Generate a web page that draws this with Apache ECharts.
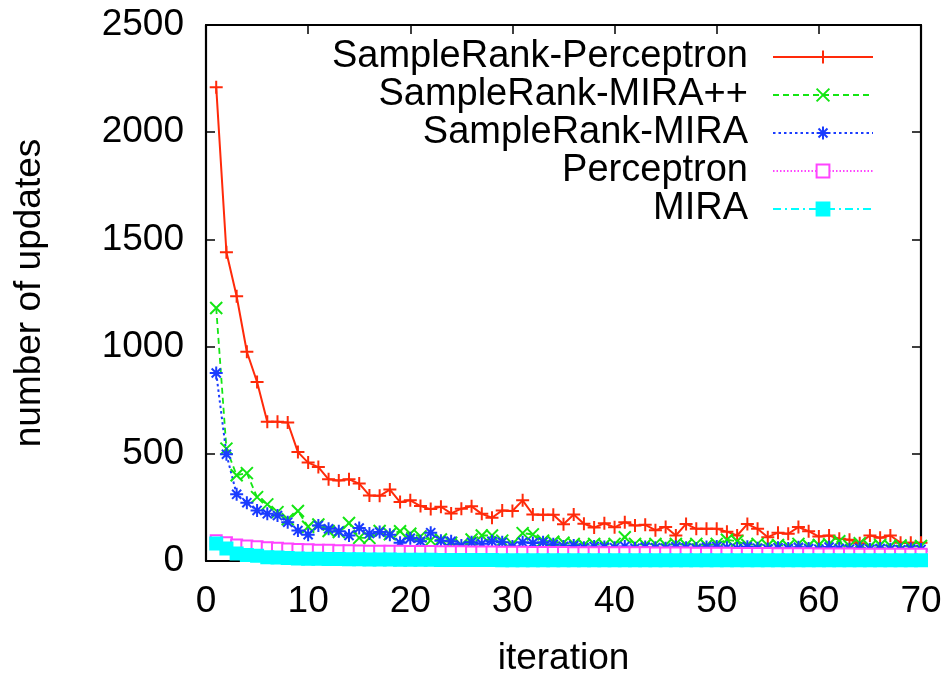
<!DOCTYPE html>
<html>
<head>
<meta charset="utf-8">
<script src="https://cdn.jsdelivr.net/npm/echarts@6/dist/echarts.min.js"></script>
<style>
  html, body { margin: 0; padding: 0; background: #fff; }
  #chart { width: 950px; height: 675px; }
</style>
</head>
<body>
<div id="chart"></div>
<script>
// Training iterations 1..70
const iterations = [
  1, 2, 3, 4, 5, 6, 7, 8, 9, 10, 11, 12, 13, 14, 15, 16, 17, 18, 19, 20,
  21, 22, 23, 24, 25, 26, 27, 28, 29, 30, 31, 32, 33, 34, 35, 36, 37, 38, 39, 40,
  41, 42, 43, 44, 45, 46, 47, 48, 49, 50, 51, 52, 53, 54, 55, 56, 57, 58, 59, 60,
  61, 62, 63, 64, 65, 66, 67, 68, 69, 70
];

// Number of weight updates per iteration for each learner
const sampleRankPerceptron = [
  2210, 1440, 1235, 976, 835, 649, 649, 646, 508, 459,
  438, 381, 376, 381, 361, 306, 304, 333, 275, 283,
  256, 242, 253, 222, 244, 255, 220, 202, 236, 233,
  283, 217, 216, 216, 171, 217, 174, 156, 176, 157,
  181, 165, 169, 144, 159, 119, 173, 150, 150, 150,
  137, 119, 172, 150, 111, 132, 127, 158, 139, 114,
  119, 104, 99, 83, 119, 108, 119, 85, 85, 85
];
const sampleRankMiraPP = [
  1180, 524, 400, 410, 298, 264, 228, 195, 233, 160,
  170, 140, 135, 177, 108, 108, 140, 125, 139, 127,
  115, 96, 100, 85, 75, 100, 119, 119, 95, 80,
  130, 124, 95, 90, 85, 80, 75, 80, 75, 80,
  111, 80, 75, 80, 75, 80, 75, 80, 72, 80,
  99, 92, 75, 80, 72, 75, 70, 80, 72, 75,
  78, 92, 70, 83, 68, 75, 70, 72, 65, 70
];
const sampleRankMira = [
  877, 498, 311, 272, 236, 220, 212, 181, 142, 123,
  166, 150, 139, 119, 154, 128, 135, 122, 85, 106,
  92, 132, 94, 92, 72, 88, 80, 92, 88, 68,
  88, 84, 88, 78, 68, 72, 62, 68, 65, 62,
  68, 60, 65, 62, 60, 66, 62, 58, 65, 68,
  62, 58, 66, 60, 56, 62, 58, 64, 58, 55,
  65, 58, 55, 60, 55, 58, 55, 52, 56, 54
];
const perceptron = [
  95, 85, 75, 70, 66, 62, 60, 56, 54, 52,
  50, 50, 48, 48, 47, 46, 46, 45, 45, 44,
  44, 44, 43, 43, 43, 42, 42, 42, 41, 41,
  41, 40, 40, 40, 40, 39, 39, 39, 39, 38,
  38, 38, 38, 37, 37, 37, 37, 36, 36, 36,
  36, 35, 35, 35, 35, 34, 34, 34, 34, 33,
  33, 33, 33, 32, 32, 32, 32, 31, 31, 31
];
const mira = [
  82, 58, 35, 28, 24, 18, 16, 14, 12, 10,
  10, 9, 9, 8, 8, 7, 7, 7, 6, 6,
  6, 6, 5, 5, 5, 5, 5, 5, 4, 4,
  4, 4, 4, 4, 4, 4, 4, 4, 4, 3,
  3, 3, 3, 3, 3, 3, 3, 3, 3, 3,
  3, 3, 3, 3, 3, 3, 3, 3, 3, 3,
  3, 3, 3, 3, 3, 3, 3, 3, 3, 3
];

const xTicks = { min: 0, max: 70, interval: 10 };
const yTicks = { min: 0, max: 2500, interval: 500 };

const FONT = 'Liberation Sans';
const pairs = ys => iterations.map((x, i) => [x, ys[i]]);

// Point glyphs: plus, cross and asterisk drawn as stroked paths
const plusPath = 'path://M0,5L10,5M5,0L5,10';
const crossPath = 'path://M0,0L10,10M10,0L0,10';
const starPath = 'path://M0,5L10,5M5,0L5,10M1.5,1.5L8.5,8.5M8.5,1.5L1.5,8.5';

function lineSeries(name, ys, color, symbol, size, dash, width) {
  return {
    name: name,
    type: 'line',
    data: pairs(ys),
    symbol: symbol,
    symbolSize: size,
    showAllSymbol: true,
    lineStyle: { color: color, width: width, type: dash },
    itemStyle: { color: color, borderColor: color, borderWidth: 2 },
    emphasis: { disabled: true }
  };
}

const chart = echarts.init(document.getElementById('chart'), null, { renderer: 'canvas' });

const mirrorTick = { show: true, inside: true, length: 9, lineStyle: { color: '#000', width: 1.5 } };
const frameLine = { show: true, onZero: false, lineStyle: { color: '#000', width: 2.2 } };
const plainNumber = v => String(v);

chart.setOption({
  animation: false,
  backgroundColor: '#fff',
  grid: { left: 206, right: 29, top: 25, bottom: 114, outerBoundsMode: 'none', containLabel: false },
  legend: {
    orient: 'vertical',
    right: 71,
    top: 33,
    align: 'right',
    itemWidth: 100,
    itemHeight: 16,
    itemGap: 0,
    selectedMode: false,
    textStyle: { fontFamily: FONT, fontSize: 38, color: '#000', padding: [0, 20, 0, 0] },
    data: ['SampleRank-Perceptron', 'SampleRank-MIRA++', 'SampleRank-MIRA', 'Perceptron', 'MIRA']
  },
  xAxis: [
    {
      type: 'value', position: 'bottom',
      min: xTicks.min, max: xTicks.max, interval: xTicks.interval,
      name: 'iteration', nameLocation: 'middle', nameGap: 79,
      nameTextStyle: { fontFamily: FONT, fontSize: 37, color: '#000' },
      axisLine: frameLine, axisTick: mirrorTick,
      axisLabel: { fontFamily: FONT, fontSize: 37, color: '#000', margin: 22, formatter: plainNumber },
      splitLine: { show: false }
    },
    {
      type: 'value', position: 'top',
      min: xTicks.min, max: xTicks.max, interval: xTicks.interval,
      axisLine: frameLine, axisTick: mirrorTick,
      axisLabel: { show: false }, splitLine: { show: false }
    }
  ],
  yAxis: [
    {
      type: 'value', position: 'left',
      min: yTicks.min, max: yTicks.max, interval: yTicks.interval,
      name: 'number of updates', nameLocation: 'middle', nameGap: 158,
      nameTextStyle: { fontFamily: FONT, fontSize: 37, color: '#000' },
      axisLine: frameLine, axisTick: mirrorTick,
      axisLabel: { fontFamily: FONT, fontSize: 37, color: '#000', margin: 22, formatter: plainNumber },
      splitLine: { show: false }
    },
    {
      type: 'value', position: 'right',
      min: yTicks.min, max: yTicks.max, interval: yTicks.interval,
      axisLine: frameLine, axisTick: mirrorTick,
      axisLabel: { show: false }, splitLine: { show: false }
    }
  ],
  series: [
    lineSeries('SampleRank-Perceptron', sampleRankPerceptron, '#ff2a0a', plusPath, 13, 'solid', 2),
    lineSeries('SampleRank-MIRA++', sampleRankMiraPP, '#14e614', crossPath, 12, [6, 4], 1.8),
    lineSeries('SampleRank-MIRA', sampleRankMira, '#1a3cff', starPath, 13, [2.5, 3], 2),
    Object.assign(lineSeries('Perceptron', perceptron, '#ff44ff', 'emptyRect', 11, [1.5, 2], 1.5),
      { itemStyle: { color: '#ff44ff', borderColor: '#ff44ff', borderWidth: 1.8 } }),
    lineSeries('MIRA', mira, '#00ffff', 'rect', 12, [8, 4, 2, 4], 1.8)
  ]
});
</script>
</body>
</html>
